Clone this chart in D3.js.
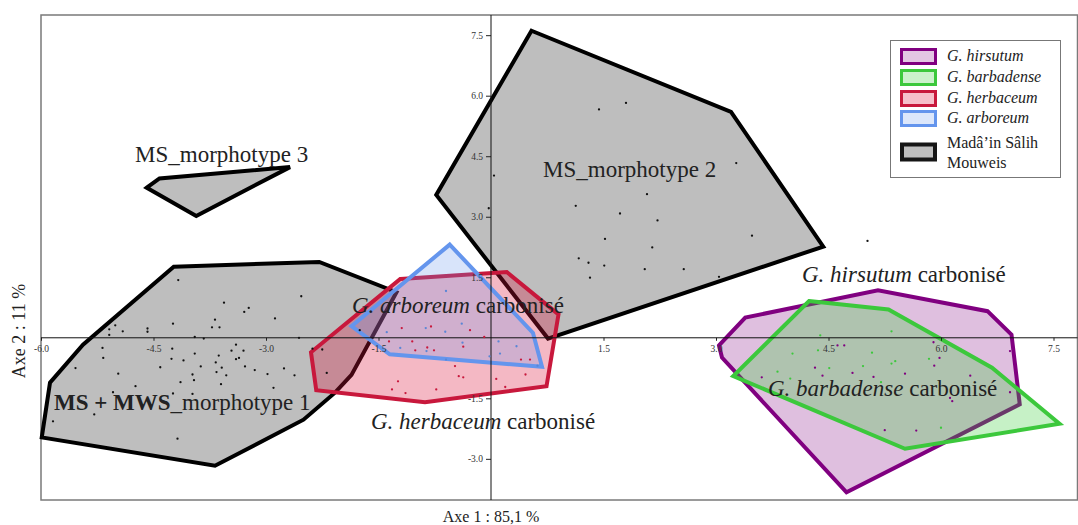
<!DOCTYPE html>
<html><head><meta charset="utf-8">
<script src="https://cdn.jsdelivr.net/npm/d3@7"></script>
<style>
html,body{margin:0;padding:0;background:#fff;}
svg{display:block;font-family:"Liberation Serif","Times New Roman",serif;}
svg text{font-family:"Liberation Serif","Times New Roman",serif;}
</style></head>
<body><svg id="chart" width="1078" height="525"></svg>
<script>
// ---- data ----
const xTicks = [-6.0, -4.5, -3.0, -1.5, 1.5, 3.0, 4.5, 6.0, 7.5];
const yTicks = [7.5, 6.0, 4.5, 3.0, 1.5, -1.5, -3.0];
const xTitle = "Axe 1 : 85,1 %";
const yTitle = "Axe 2 : 11 %";

const hullMS1 = [[-4.23,1.76],[-2.29,1.88],[-1.26,1.13],[-1.86,-0.92],[-2.08,-1.36],[-2.50,-2.03],[-3.68,-3.17],[-5.99,-2.47],[-5.88,-1.11],[-5.44,-0.17]];
const hullMS2 = [[0.54,7.61],[3.20,5.60],[4.43,2.26],[0.76,-0.02],[-0.73,3.54]];
const hullMS3 = [[-4.59,3.72],[-4.42,3.95],[-2.68,4.23],[-3.93,3.02]];
const hullHirsutum = [[3.04,-0.19],[3.39,0.50],[5.16,1.18],[6.62,0.66],[6.94,0.08],[7.05,-1.65],[4.74,-3.83],[3.08,-0.49]];
const hullBarbadense = [[4.24,0.91],[5.30,0.70],[6.68,-0.74],[7.58,-2.13],[5.52,-2.75],[3.23,-0.95]];
const hullHerbaceum = [[-1.21,1.46],[0.21,1.63],[0.90,0.58],[0.74,-1.20],[-0.88,-1.60],[-2.33,-1.30],[-2.40,-0.36]];
const hullArboreum = [[-0.55,2.31],[0.56,0.12],[0.68,-0.72],[-1.35,-0.41],[-1.86,0.29]];

const ptsMS = [[1.44,5.66],[1.80,5.82],[3.27,4.33],[0.04,4.02],[-0.03,3.21],[1.13,3.27],[2.08,3.56],[1.72,3.08],[2.22,2.91],[1.52,2.45],[2.15,2.24],[3.48,2.53],[1.17,1.97],[1.30,1.86],[1.51,1.79],[2.05,1.70],[2.57,1.70],[1.32,1.49],[3.04,1.51],[5.02,2.40],
 [-4.17,1.43],[-2.53,1.03],[-3.56,0.87],[-3.23,0.74],[-3.29,0.64],[-2.88,0.48],[-4.24,0.35],[-3.68,0.45],[-3.72,0.26],[-3.62,0.26],[-4.58,0.23],[-4.58,0.15],[-5.01,0.31],[-5.09,0.21],[-5.09,0.07],[-4.91,0.16],[-3.95,0.02],[-3.83,-0.02],[-2.56,0.0],[-5.18,-0.25],[-5.17,-0.50],[-4.25,-0.27],[-4.26,-0.52],[-4.10,-0.56],[-3.95,-0.39],[-3.40,-0.17],[-3.46,-0.32],[-3.30,-0.32],[-3.40,-0.53],[-3.36,-0.50],[-3.63,-0.44],[-3.67,-0.61],[-3.59,-0.74],[-3.87,-0.71],[-4.41,-0.73],[-3.66,-0.85],[-3.53,-0.93],[-3.28,-0.71],[-3.15,-0.80],[-2.98,-0.90],[-2.76,-0.76],[-2.62,-0.93],[-5.54,-0.75],[-4.97,-0.89],[-3.98,-0.91],[-4.14,-1.10],[-3.96,-1.05],[-3.60,-1.15],[-4.74,-1.20],[-2.90,-1.24],[-5.04,-1.35],[-4.24,-1.38],[-5.29,-1.90],[-5.84,-2.07],[-4.18,-2.50],[-2.38,-0.27],[-2.25,-0.29],[-2.19,-0.87],[-1.75,0.19],[-2.49,-1.45],[-3.98,-1.39]];
const ptsHerbaceum = [[-1.19,0.24],[-0.80,0.28],[-0.28,0.19],[-0.09,0.02],[-1.36,-0.09],[-1.05,-0.09],[-0.85,-0.24],[-0.76,-0.31],[-1.01,-0.31],[-0.37,-0.22],[0.40,-0.54],[0.52,-0.54],[-0.48,-0.70],[0.46,-0.91],[-0.43,-0.95],[-0.37,-0.98],[0.07,-1.02],[-1.24,-1.08],[0.19,-1.22],[-1.32,-1.28],[-1.14,-1.37],[-0.73,-1.28]];
const ptsArboreum = [[-0.60,1.16],[-0.39,0.35],[-1.39,0.14],[-0.87,0.24],[-0.61,0.15],[-0.38,-0.12],[-1.21,-0.25],[-0.86,-0.33],[0.10,-0.09],[0.34,-0.21],[0.12,-0.39],[-0.02,-0.46],[-0.60,-0.54],[0.62,-0.69]];
const ptsHirsutum = [[4.62,-0.19],[4.71,-0.19],[5.90,-0.11],[5.98,-0.50],[5.91,-0.69],[4.32,-0.74],[4.42,-0.94],[4.82,-0.87],[5.10,-0.97],[5.52,-0.89],[3.61,-0.98],[6.39,-0.94],[6.12,-1.49],[6.15,-1.57],[5.25,-2.29],[5.67,-2.30],[6.92,-0.33],[6.92,-1.35]];
const ptsBarbadense = [[4.39,0.06],[5.34,0.16],[4.36,-0.31],[4.02,-0.39],[5.08,-0.37],[5.84,-0.52],[5.39,-0.58],[4.96,-0.70],[4.51,-0.75],[5.34,-0.64],[3.82,-0.84],[3.99,-1.01],[5.20,-1.10],[6.00,-2.23]];

const legendNames = ["G. hirsutum", "G. barbadense", "G. herbaceum", "G. arboreum"];
const legendMS = ["Madâ’in Sâlih", "Mouweis"];

// ---- layout ----
const SERIF = "'Liberation Serif','Times New Roman',serif";
const svg = d3.select("#chart");
const L = 41, R = 1077.5, T = 15, B = 500;
const x = d3.scaleLinear().domain([-6, 7.82]).range([L, R]);
const y = d3.scaleLinear().domain([-4.02, 8.0]).range([B, T]);

const sty = {
  ms:   {stroke:"#000000", fill:"#bebebe", op:1},
  hir:  {stroke:"#800080", fill:"#800080", op:0.25},
  bar:  {stroke:"#3cc83c", fill:"#32cd32", op:0.28},
  her:  {stroke:"#c8183c", fill:"#dc143c", op:0.3},
  arb:  {stroke:"#6495ed", fill:"#6495ed", op:0.25}
};

const line = d3.line().x(d=>x(d[0])).y(d=>y(d[1])).curve(d3.curveLinearClosed);

// frame
svg.append("rect").attr("x",L).attr("y",T).attr("width",R-L).attr("height",B-T)
  .attr("fill","none").attr("stroke","#7a7a7a").attr("stroke-width",1.5);

function hull(data, s){
  svg.append("path").attr("d", line(data))
    .attr("fill", s.fill).attr("fill-opacity", s.op)
    .attr("stroke", s.stroke).attr("stroke-width", 4).attr("stroke-linejoin","miter");
}
hull(hullMS1, sty.ms); hull(hullMS2, sty.ms); hull(hullMS3, sty.ms);
hull(hullHerbaceum, sty.her); hull(hullArboreum, sty.arb);
hull(hullHirsutum, sty.hir); hull(hullBarbadense, sty.bar);

// axes through origin
const gx = svg.append("g").attr("transform",`translate(0,${y(0)})`)
  .call(d3.axisBottom(x).tickValues(xTicks).tickSize(3).tickPadding(4).tickFormat(d=>d.toFixed(1)));
const gy = svg.append("g").attr("transform",`translate(${x(0)},0)`)
  .call(d3.axisLeft(y).tickValues(yTicks).tickSize(5).tickPadding(3).tickFormat(d=>d.toFixed(1)));
[gx, gy].forEach(g=>{
  g.attr("font-family", SERIF).style("font-family", SERIF);
  g.select(".domain").remove();
  g.selectAll("text").style("font-family", SERIF).attr("font-size",9.5).attr("fill","#333");
  g.selectAll("line").attr("stroke","#222");
});
svg.append("line").attr("x1",L).attr("x2",R).attr("y1",y(0)).attr("y2",y(0)).attr("stroke","#111").attr("stroke-width",1);
svg.append("line").attr("x1",x(0)).attr("x2",x(0)).attr("y1",T).attr("y2",B).attr("stroke","#111").attr("stroke-width",1);

// points
function pts(data, col){
  svg.append("g").selectAll("circle").data(data).join("circle")
    .attr("cx", d=>x(d[0])).attr("cy", d=>y(d[1])).attr("r", 1.15).attr("fill", col);
}
pts(ptsMS, "#111"); pts(ptsHerbaceum, "#c8183c"); pts(ptsArboreum, "#5a86d6");
pts(ptsHirsutum, "#800080"); pts(ptsBarbadense, "#3cc83c");

// group labels
const FS = 23;
function label(px, py, parts){
  const t = svg.append("text").attr("x",px).attr("y",py).attr("font-size",FS).attr("fill","#222");
  parts.forEach(p=>{
    const s = t.append("tspan").text(p.t);
    if(p.i) s.attr("font-style","italic");
    if(p.b) s.attr("font-weight","bold");
  });
}
label(135, 162, [{t:"MS_morphotype 3"}]);
label(543, 177, [{t:"MS_morphotype 2"}]);
label(54, 409.5, [{t:"MS + MWS", b:true},{t:"_morphotype 1"}]);
label(352, 313, [{t:"G. arboreum", i:true},{t:" carbonisé"}]);
label(371, 428.5, [{t:"G. herbaceum", i:true},{t:" carbonisé"}]);
label(802, 282, [{t:"G. hirsutum", i:true},{t:" carbonisé"}]);
label(768, 396, [{t:"G. barbadense", i:true},{t:" carbonisé"}]);

// axis titles
svg.append("text").attr("x", x(0)).attr("y", 522).attr("text-anchor","middle")
  .attr("font-size",16).attr("fill","#222").text(xTitle);
svg.append("text").attr("transform","translate(25,331) rotate(-90)").attr("text-anchor","middle")
  .attr("font-size",18).attr("fill","#222").text(yTitle);

// legend
const lg = svg.append("g");
lg.append("rect").attr("x",890.5).attr("y",40.5).attr("width",170).attr("height",137)
  .attr("fill","#fff").attr("stroke","#777").attr("stroke-width",1);
const legendStyles = [sty.hir, sty.bar, sty.her, sty.arb];
const rowY = [56.5, 77.5, 98.5, 118.5];
legendNames.forEach((n,i)=>{
  lg.append("rect").attr("x",901.5).attr("y",rowY[i]-7).attr("width",34).attr("height",14)
    .attr("fill", legendStyles[i].fill).attr("fill-opacity", Math.min(1,legendStyles[i].op*0.9))
    .attr("stroke", legendStyles[i].stroke).attr("stroke-width",3);
  lg.append("text").attr("x",947).attr("y",rowY[i]+4.5).attr("font-size",16)
    .attr("font-style","italic").attr("fill","#222").text(n);
});
lg.append("rect").attr("x",902).attr("y",144.5).attr("width",33).attr("height",15)
  .attr("fill","#bebebe").attr("stroke","#151515").attr("stroke-width",4);
legendMS.forEach((n,i)=>{
  lg.append("text").attr("x",947).attr("y",148.3+20*i).attr("font-size",16).attr("fill","#222").text(n);
});
</script>
</body></html>
